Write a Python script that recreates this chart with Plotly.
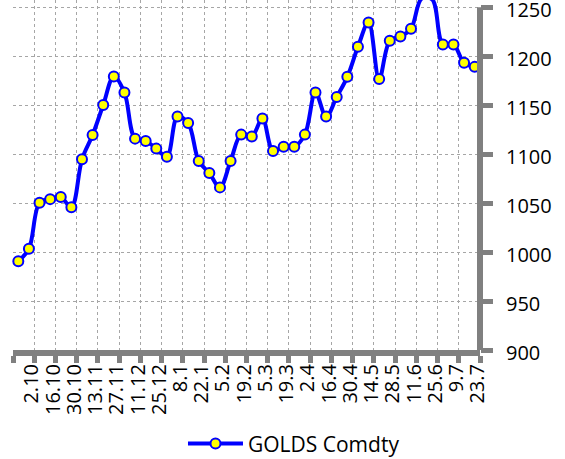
import plotly.graph_objects as go
import pandas as pd

# Weekly dates (Fridays)
dates = [
    "2009-09-25", "2009-10-02", "2009-10-09", "2009-10-16", "2009-10-23", "2009-10-30",
    "2009-11-06", "2009-11-13", "2009-11-20", "2009-11-27", "2009-12-04", "2009-12-11",
    "2009-12-18", "2009-12-25", "2010-01-01", "2010-01-08", "2010-01-15", "2010-01-22",
    "2010-01-29", "2010-02-05", "2010-02-12", "2010-02-19", "2010-02-26", "2010-03-05",
    "2010-03-12", "2010-03-19", "2010-03-26", "2010-04-02", "2010-04-09", "2010-04-16",
    "2010-04-23", "2010-04-30", "2010-05-07", "2010-05-14", "2010-05-21", "2010-05-28",
    "2010-06-04", "2010-06-11", "2010-06-18", "2010-06-25", "2010-07-02", "2010-07-09",
    "2010-07-16", "2010-07-23",
]
gold = [
    990.7, 1003.4, 1050.4, 1054.1, 1056.2, 1045.9,
    1094.8, 1119.6, 1150.3, 1179.4, 1163.0, 1115.9,
    1113.5, 1105.7, 1097.5, 1138.4, 1131.9, 1093.0,
    1080.7, 1066.1, 1093.0, 1120.0, 1118.0, 1136.4,
    1103.2, 1107.7, 1107.7, 1120.0, 1163.0, 1138.4,
    1158.5, 1179.0, 1209.7, 1234.6, 1176.9, 1215.8,
    1220.3, 1228.1, 1259.0, 1258.0, 1212.1, 1212.1,
    1193.3, 1189.2,
]
tick_dates = dates[1::2]
tick_labels = [
    "2.10", "16.10", "30.10", "13.11", "27.11", "11.12", "25.12", "8.1", "22.1",
    "5.2", "19.2", "5.3", "19.3", "2.4", "16.4", "30.4", "14.5", "28.5", "11.6",
    "25.6", "9.7", "23.7",
]
y_ticks = [900, 950, 1000, 1050, 1100, 1150, 1200, 1250]

d = pd.to_datetime(dates)
half = pd.Timedelta(hours=84)
boundaries = list(d[0::2] - half) + [d[-1] + half]
x_range = [d[0] - half, d[-1] + half]

FONT = "Open Sans"
GRAY = "#808080"

fig = go.Figure()
fig.add_trace(go.Scatter(
    x=d, y=gold, name="GOLDS Comdty", mode="lines+markers",
    line=dict(color="#0000FF", width=4, shape="spline", smoothing=1.0),
    marker=dict(size=10, color="#FFFF00", line=dict(color="#0000FF", width=2)),
    cliponaxis=False,
))

fig.update_layout(
    width=565, height=459,
    margin=dict(l=13, r=85, t=0, b=109, autoexpand=False),
    paper_bgcolor="white", plot_bgcolor="white",
    font=dict(family=FONT, size=20, color="black"),
    showlegend=True,
    legend=dict(orientation="h", x=0.364, xanchor="left", y=-0.268, yanchor="middle",
                itemwidth=55,
                font=dict(family=FONT, size=21, color="black"), bgcolor="rgba(0,0,0,0)"),
    xaxis=dict(
        type="date", range=x_range, automargin=False,
        tickmode="array", tickvals=pd.to_datetime(tick_dates), ticktext=tick_labels,
        tickangle=-90, ticks="", ticklabelshift=3,
        showgrid=False, zeroline=False,
        showline=True, linecolor=GRAY, linewidth=6,
        tickfont=dict(family=FONT, size=20, color="black"),
        minor=dict(tickmode="array", tickvals=boundaries, ticks="outside", ticklen=7,
                   tickwidth=5, tickcolor=GRAY, showgrid=True, gridcolor="#A6A6A6",
                   griddash="dot", gridwidth=1),
    ),
    yaxis=dict(
        side="right", range=[900, 1257.5], tickmode="array", tickvals=y_ticks,
        automargin=False, ticklabeloverflow="allow", ticklabelstandoff=9,
        ticklabelshift=3,
        ticks="outside", ticklen=12, tickwidth=5, tickcolor=GRAY,
        showgrid=True, gridcolor="#A6A6A6", griddash="dot", gridwidth=1,
        zeroline=False, showline=False,
        tickfont=dict(family=FONT, size=20, color="black"),
    ),
    shapes=[
        dict(type="rect", xref="paper", yref="y", x0=0, x1=1, y0=1250.5, y1=1257.5,
             fillcolor="white", line=dict(width=0), layer="between"),
        dict(type="line", xref="paper", yref="y", x0=1, x1=1, y0=900, y1=1250,
             line=dict(color=GRAY, width=6), layer="above"),
    ],
)

fig.write_html("out.html", config={"displayModeBar": False},
               post_script="document.body.style.margin='0';document.body.style.overflow='hidden';")
